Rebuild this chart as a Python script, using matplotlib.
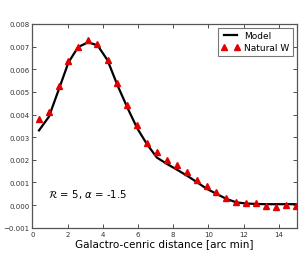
import matplotlib
matplotlib.use('Agg')
import matplotlib.pyplot as plt

# data
dist = [0.38, 0.94, 1.5, 2.05, 2.6, 3.16, 3.7, 4.27, 4.83, 5.4, 5.95, 6.5,
        7.07, 7.64, 8.2, 8.78, 9.35, 9.9, 10.45, 11.0, 11.58, 12.14,
        12.7, 13.27, 13.85, 14.42, 14.96]
natural_w = [0.0038, 0.00413, 0.00528, 0.00636, 0.00698, 0.00728, 0.0071,
             0.00642, 0.0054, 0.00443, 0.00352, 0.00276,
             0.00234, 0.002, 0.00177, 0.00145, 0.00113, 0.00083, 0.00056,
             0.0003, 0.00013, 0.00011, 0.0001, -0.00005, -0.00008, -0.00001,
             -0.00004]
model = [0.0033, 0.0039, 0.0051, 0.0063, 0.00698, 0.00719, 0.00706, 0.0064,
         0.0053, 0.0043, 0.0034, 0.0027,
         0.0021, 0.00182, 0.00157, 0.0013, 0.00101, 0.00072, 0.0005,
         0.00028, 0.00012, 0.00007, 0.00005, 0.00004, 0.00004, 0.00004,
         0.00004]

fig = plt.figure(figsize=(3.02, 2.55), dpi=100)
ax = fig.add_axes([0.107, 0.103, 0.875, 0.799])

ax.plot(dist, model, color='black', lw=1.6, label='Model', zorder=2)
ax.plot(dist, natural_w, ls='none', marker='^', ms=5, color='#e00000',
        mec='#e00000', label='Natural W', zorder=3)

ax.set_xlim(0, 15)
ax.set_ylim(-0.001, 0.008)
ax.set_xticks(range(0, 16, 2))
ax.set_yticks([-0.001, 0.0, 0.001, 0.002, 0.003, 0.004, 0.005, 0.006, 0.007, 0.008])
ax.set_yticklabels(['\u22120.001', '0.000', '0.001', '0.002', '0.003', '0.004',
                    '0.005', '0.006', '0.007', '0.008'])
ax.tick_params(direction='in', top=True, right=True, labelsize=5, length=3,
               width=0.6, colors='#333333', pad=2)
for s in ax.spines.values():
    s.set_color('#555555')
    s.set_linewidth(0.9)

ax.set_xlabel('Galactro-cenric distance [arc min]', fontsize=7.5, labelpad=1)
ax.text(0.9, 0.0005, r'$\mathcal{R}$ = 5, $\alpha$ = -1.5', fontsize=7.3,
        va='center', ha='left')

leg = ax.legend(loc='upper right', fontsize=6.5, numpoints=2, fancybox=False,
                borderaxespad=0.4, handlelength=2.0, borderpad=0.4,
                labelspacing=0.3, handletextpad=0.5)
leg.get_frame().set_edgecolor('#555555')
leg.get_frame().set_linewidth(0.8)

fig.savefig('out.png', dpi=100)
